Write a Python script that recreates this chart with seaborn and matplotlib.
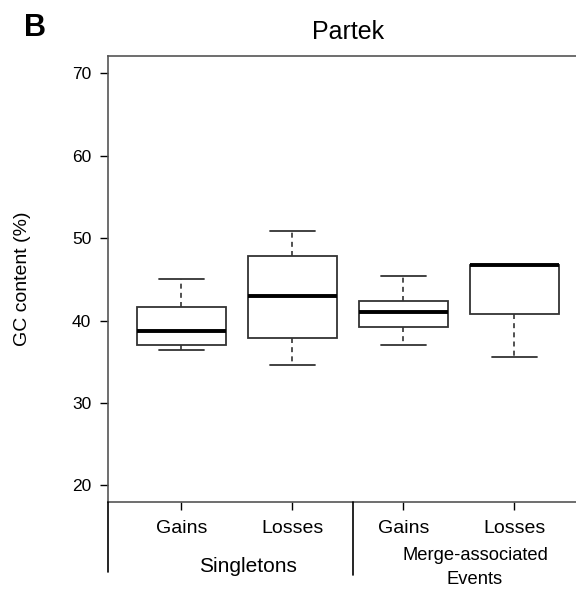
import matplotlib
matplotlib.use("Agg")
import matplotlib.pyplot as plt
from matplotlib.lines import Line2D
import seaborn as sns
import pandas as pd

# Five-number summaries (min, Q1, median, Q3, max)
groups = ["Singletons", "Singletons", "Merge-associated Events", "Merge-associated Events"]
events = ["Gains", "Losses", "Gains", "Losses"]
mins    = [36.4, 34.6, 37.1, 35.6]
q1s     = [37.1, 37.9, 39.2, 40.8]
medians = [38.8, 43.0, 41.1, 46.8]
q3s     = [41.6, 47.8, 42.4, 46.8]
maxs    = [45.0, 50.9, 45.4, 46.8]
yticks = [20, 30, 40, 50, 60, 70]

rows = []
for i, (g, e) in enumerate(zip(groups, events)):
    for v in (mins[i], q1s[i], medians[i], q3s[i], maxs[i]):
        rows.append({"box": i, "label": e, "value": v})
df = pd.DataFrame(rows)

sns.set_theme(style="white")
plt.rcParams["font.family"] = ["Liberation Sans", "DejaVu Sans"]
plt.rcParams["text.color"] = "black"
plt.rcParams["axes.labelcolor"] = "black"
plt.rcParams["xtick.color"] = "black"
plt.rcParams["ytick.color"] = "black"

fig = plt.figure(figsize=(5.76, 5.94), dpi=100)
ax = fig.add_axes([108 / 576, 1 - 501.7 / 594, 1 - 108 / 576, (501.7 - 56) / 594])

edge = "#333333"
sns.boxplot(data=df, x="box", y="value", ax=ax, width=0.8, whis=1.5,
            color="white", linecolor=edge, linewidth=1.3, fliersize=0,
            whiskerprops=dict(linestyle=(0, (3, 2.5)), color=edge, linewidth=1.2),
            capprops=dict(color=edge, linewidth=1.3),
            medianprops=dict(color="black", linewidth=2.8),
            boxprops=dict(facecolor="white", edgecolor=edge, linewidth=1.3))

ax.set_xlim(-0.662, 3.556)
ax.set_ylim(18.03, 72.12)
ax.set_yticks(yticks)
ax.set_yticklabels([str(t) for t in yticks], fontsize=12.5)
ax.set_xticks(range(len(events)))
ax.set_xticklabels(events, fontsize=14)
ax.set_xlabel("")
ax.set_ylabel("GC content (%)", fontsize=14)
ax.yaxis.set_label_coords(-(108 - 31) / 468, 0.5)

ax.tick_params(axis="both", direction="out", length=6, width=1,
               left=True, bottom=True)
ax.tick_params(axis="y", colors="black", pad=6)
ax.tick_params(axis="x", colors="black", pad=7)
for side in ("left", "top", "bottom"):
    ax.spines[side].set_visible(True)
    ax.spines[side].set_color("#555555")
    ax.spines[side].set_linewidth(1.2)
ax.spines["right"].set_visible(False)

# group separators and labels
fig.add_artist(Line2D([108.3 / 576, 108.3 / 576], [1 - 501.7 / 594, 1 - 572 / 594],
                      color="black", linewidth=1.2))
fig.add_artist(Line2D([352.5 / 576, 352.5 / 576], [1 - 501.7 / 594, 1 - 575 / 594],
                      color="black", linewidth=1.2))
fig.text(248 / 576, 1 - 567 / 594, groups[0], ha="center", va="center", fontsize=15)
g2a, g2b = groups[2].rsplit(" ", 1)
fig.text(475 / 576, 1 - 555 / 594, g2a, ha="center", va="center", fontsize=13.2)
fig.text(475 / 576, 1 - 579.5 / 594, g2b, ha="center", va="center", fontsize=13.2)

fig.text(348 / 576, 1 - 32 / 594, "Partek", ha="center", va="center", fontsize=18)
fig.text(35 / 576, 1 - 27.5 / 594, "B", ha="center", va="center", fontsize=22,
         fontweight="bold")

fig.savefig("out.png", dpi=100)
